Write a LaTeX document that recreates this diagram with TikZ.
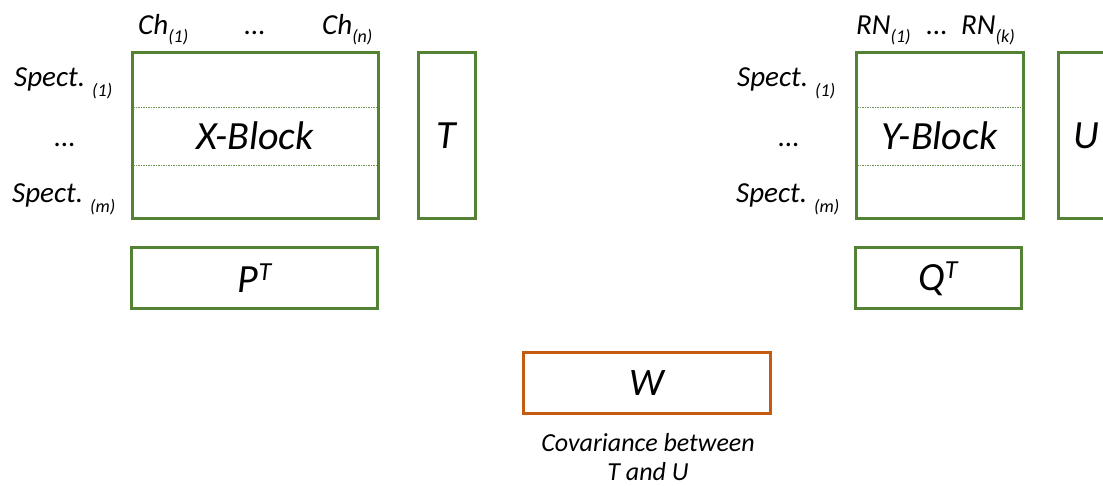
\documentclass[tikz,border=0pt]{standalone}
\usepackage{fontspec}
\setmainfont{Carlito}
\definecolor{pgreen}{HTML}{548235}
\definecolor{porange}{HTML}{C55A11}
\newcommand\fs[1]{\fontsize{#1}{#1}\selectfont}
\newcommand\chsub[1]{\raisebox{-8pt}{\fs{18}#1}}
\newcommand\spsub[1]{\raisebox{-10pt}{\fs{18}#1}}
\newcommand\supT{\raisebox{12pt}{\fs{26}T}}
\begin{document}
\begin{tikzpicture}[x=1pt,y=-1pt,
  gbox/.style={draw=pgreen, line width=3pt, inner sep=0pt, font=\itshape\fs{40}},
  obox/.style={draw=porange, line width=3pt, inner sep=0pt, font=\itshape\fs{39}},
  lbl/.style={inner sep=0pt, font=\itshape\fs{29}},
  dline/.style={pgreen!85, line width=0.9pt, dash pattern=on 1.5pt off 1pt}]
\useasboundingbox (0,0) rectangle (1103,486);
% left block
\node[gbox, minimum width=246pt, minimum height=166pt] (X) at (255,136) {X-Block};
\node[gbox, minimum width=57pt, minimum height=166pt] (T) at (446.5,136) {T};
\node[gbox, minimum width=246pt, minimum height=61pt] (P) at (254.5,278.5) {P\supT};
\draw[dline] (133,107) -- (377,107);
\draw[dline] (133,165) -- (377,165);
\node[lbl, anchor=base west] (ch1) at (138,35) {Ch\chsub{(1)}};
\node[lbl, anchor=base] (chd) at (255,35) {...};
\node[lbl, anchor=base west] (chn) at (322,35) {Ch\chsub{(n)}};
\node[lbl, anchor=base west] (sx1) at (14,87) {Spect.\hspace{7pt}\spsub{(1)}};
\node[lbl, anchor=base] (sxd) at (65,147) {...};
\node[lbl, anchor=base west] (sxm) at (12,203) {Spect.\hspace{7pt}\spsub{(m)}};
% right block
\node[gbox, minimum width=167pt, minimum height=166pt] (Y) at (939.5,136) {Y-Block};
\node[gbox, minimum width=57pt, minimum height=166pt] (U) at (1086.5,136) {U};
\node[gbox, minimum width=166pt, minimum height=61pt] (Q) at (938,278.5) {Q\supT};
\draw[dline] (857,107) -- (1022,107);
\draw[dline] (857,165) -- (1022,165);
\node[lbl, anchor=base west] (rn1) at (856,35) {RN\chsub{(1)}};
\node[lbl, anchor=base] (rnd) at (937,35) {...};
\node[lbl, anchor=base west] (rnk) at (961,35) {RN\chsub{(k)}};
\node[lbl, anchor=base west] (sy1) at (737,87) {Spect.\hspace{7pt}\spsub{(1)}};
\node[lbl, anchor=base] (syd) at (789,147) {...};
\node[lbl, anchor=base west] (sym) at (736,203) {Spect.\hspace{7pt}\spsub{(m)}};
% covariance
\node[obox, minimum width=247pt, minimum height=61pt] (W) at (646.5,382.5) {W};
\node[inner sep=0pt, font=\itshape\fontsize{26}{29}\selectfont, align=center] (cap) at (648,457) {Covariance between\\T and U};
\end{tikzpicture}
\end{document}
